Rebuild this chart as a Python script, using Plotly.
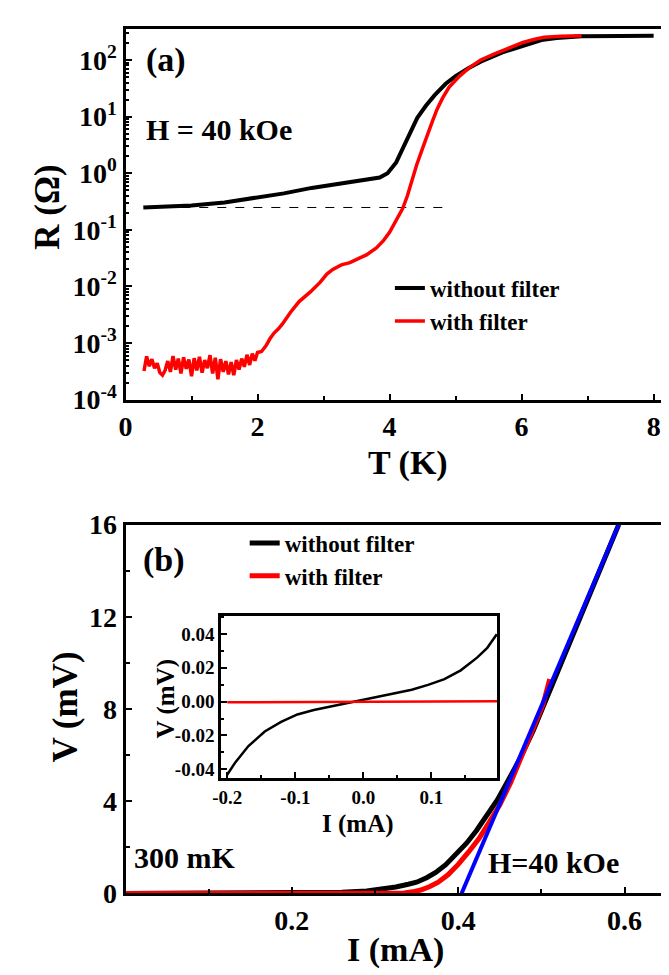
import plotly.graph_objects as go

# (a) R vs T at H = 40 kOe
T_nofilt = [0.27, 0.6, 1.0, 1.5, 1.93, 2.4, 2.82, 3.2, 3.46, 3.7, 3.85, 3.97, 4.05, 4.1, 4.17,
            4.23, 4.32, 4.42, 4.55, 4.68, 4.85, 5.0, 5.2, 5.38, 5.7, 6.02, 6.3, 6.53, 6.91, 7.5, 8.0]
R_nofilt = [0.248, 0.255, 0.268, 0.305, 0.358, 0.44, 0.55, 0.64, 0.716, 0.79, 0.84, 1.0, 1.28, 1.55, 2.3,
            3.3, 5.6, 9.5, 15.5, 23.7, 38, 52, 72, 93, 135, 180, 225, 244, 262, 266, 267]

# noisy floor below 2 K, read by eye
T_filt_low = [0.28, 0.32, 0.36, 0.40, 0.44, 0.48, 0.52, 0.56, 0.60, 0.64, 0.68, 0.72, 0.76, 0.80, 0.84,
              0.88, 0.92, 0.96, 1.00, 1.04, 1.08, 1.12, 1.16, 1.20, 1.24, 1.28, 1.32, 1.36, 1.40, 1.44,
              1.48, 1.52, 1.56, 1.60, 1.64, 1.68, 1.72, 1.76, 1.80, 1.84, 1.88, 1.92, 1.96, 2.00]
R_filt_low = [3.2e-4, 5.8e-4, 3.9e-4, 5.2e-4, 3.6e-4, 4.4e-4, 3.0e-4, 2.7e-4, 3.3e-4, 4.8e-4, 3.1e-4,
              5.9e-4, 3.4e-4, 5.3e-4, 2.9e-4, 5.6e-4, 3.5e-4, 5.1e-4, 2.6e-4, 5.4e-4, 3.3e-4, 5.7e-4,
              3.0e-4, 5.0e-4, 3.6e-4, 6.1e-4, 2.9e-4, 5.5e-4, 2.3e-4, 5.2e-4, 3.1e-4, 4.8e-4, 2.8e-4,
              4.6e-4, 2.7e-4, 5.0e-4, 3.4e-4, 5.3e-4, 3.8e-4, 6.2e-4, 4.1e-4, 6.5e-4, 4.9e-4, 6.8e-4]
T_filt_high = [2.06, 2.13, 2.19, 2.25, 2.32, 2.38, 2.5, 2.63, 2.8, 2.95, 3.05, 3.14, 3.27, 3.40, 3.55,
               3.65, 3.8, 3.91, 4.0, 4.07, 4.14, 4.2, 4.27, 4.33, 4.41, 4.49, 4.57, 4.65, 4.72, 4.8,
               4.9, 5.06, 5.2, 5.38, 5.6, 5.8, 6.02, 6.2, 6.34, 6.6, 6.91]
R_filt_high = [7.1e-4, 9.0e-4, 1.2e-3, 1.5e-3, 1.8e-3, 2.2e-3, 3.5e-3, 5.4e-3, 8.0e-3, 1.19e-2, 1.65e-2,
               2.0e-2, 2.4e-2, 2.63e-2, 3.2e-2, 3.6e-2, 4.8e-2, 6.5e-2, 9.0e-2, 0.126, 0.18, 0.24, 0.40,
               0.69, 1.4, 2.55, 4.8, 8.3, 13.5, 21, 33, 52, 72, 100, 130, 160, 204, 232, 251, 262, 267]
T_filt = T_filt_low + T_filt_high
R_filt = R_filt_low + R_filt_high

T_dash = [0.3, 4.87]
R_dash = [0.248, 0.248]

# (b) V vs I at 300 mK
I_nofilt = [0.0, 0.1, 0.22, 0.26, 0.29, 0.31, 0.325, 0.34, 0.35, 0.362, 0.373, 0.385, 0.397, 0.41,
            0.422, 0.435, 0.447, 0.46, 0.475, 0.49, 0.502, 0.53, 0.56, 0.593]
V_nofilt = [0, 0, 0.02, 0.05, 0.11, 0.19, 0.28, 0.40, 0.49, 0.68, 0.91, 1.25, 1.68, 2.18,
            2.73, 3.38, 4.06, 4.9, 5.9, 7.05, 8.1, 10.6, 13.2, 16.0]
I_filt = [0.0, 0.1, 0.2, 0.3, 0.335, 0.345, 0.355, 0.366, 0.376, 0.388, 0.40, 0.412, 0.425, 0.437,
          0.45, 0.463, 0.477, 0.49, 0.502, 0.51]
V_filt = [0, 0, 0, 0, 0.02, 0.07, 0.15, 0.30, 0.49, 0.82, 1.26, 1.78, 2.38, 3.08,
          3.85, 4.8, 6.0, 7.1, 8.2, 9.3]
I_fit = [0.404, 0.593]
V_fit = [0.0, 16.0]

# inset
I_in = [-0.2005, -0.188, -0.169, -0.145, -0.121, -0.097, -0.073, -0.049, -0.025, 0.0, 0.023, 0.047,
        0.071, 0.095, 0.119, 0.143, 0.167, 0.182, 0.196]
V_in = [-0.0434, -0.0358, -0.0263, -0.0177, -0.012, -0.0076, -0.005, -0.003, -0.0011, 0.001, 0.0032,
        0.0053, 0.007, 0.0099, 0.0133, 0.0185, 0.026, 0.0318, 0.0398]
I_in_filt = [-0.2, 0.0, 0.197]
V_in_filt = [-0.0004, 0.0, 0.0002]

FONT = "Liberation Serif"
BLACK = "#000000"
RED = "#ff0000"
BLUE = "#0000ff"

fig = go.Figure()

fig.add_trace(go.Scatter(x=T_dash, y=R_dash, mode="lines", line=dict(color=BLACK, width=1, dash="dash"),
                         showlegend=False, xaxis="x", yaxis="y"))
fig.add_trace(go.Scatter(x=T_nofilt, y=R_nofilt, mode="lines", line=dict(color=BLACK, width=4),
                         name="without filter", legend="legend", xaxis="x", yaxis="y"))
fig.add_trace(go.Scatter(x=T_filt, y=R_filt, mode="lines", line=dict(color=RED, width=3.5),
                         name="with filter", legend="legend", xaxis="x", yaxis="y"))

fig.add_trace(go.Scatter(x=I_nofilt, y=V_nofilt, mode="lines", line=dict(color=BLACK, width=5),
                         name="without filter", legend="legend2", xaxis="x2", yaxis="y2"))
fig.add_trace(go.Scatter(x=I_filt, y=V_filt, mode="lines", line=dict(color=RED, width=5),
                         name="with filter", legend="legend2", xaxis="x2", yaxis="y2"))
fig.add_trace(go.Scatter(x=I_fit, y=V_fit, mode="lines", line=dict(color=BLUE, width=4),
                         showlegend=False, xaxis="x2", yaxis="y2"))

fig.add_trace(go.Scatter(x=I_in, y=V_in, mode="lines", line=dict(color=BLACK, width=2.5),
                         showlegend=False, xaxis="x3", yaxis="y3"))
fig.add_trace(go.Scatter(x=I_in_filt, y=V_in_filt, mode="lines", line=dict(color=RED, width=2.5),
                         showlegend=False, xaxis="x3", yaxis="y3"))

tick_font = dict(family=FONT, size=28, color=BLACK, weight="bold")
inset_tick_font = dict(family=FONT, size=19, color=BLACK, weight="bold")
common = dict(showline=True, linewidth=3, linecolor=BLACK, mirror=True, ticks="inside",
              ticklen=6, tickwidth=2, tickcolor=BLACK, showgrid=False, zeroline=False)

exps = [-4, -3, -2, -1, 0, 1, 2]
log_vals = [10.0 ** e for e in exps]
log_text = ["10<sup>%d</sup>" % e for e in exps]

legend_font = dict(family=FONT, size=23, color=BLACK, weight="bold")

fig.update_layout(
    width=669, height=975, autosize=False,
    margin=dict(l=0, r=0, t=0, b=0),
    plot_bgcolor="white", paper_bgcolor="white",
    xaxis=dict(domain=[0.1644, 0.9836], anchor="y", range=[0, 8.19], tickvals=[0, 2, 4, 6, 8],
               tickfont=tick_font, minor=dict(dtick=1, ticks="inside", ticklen=4, tickcolor=BLACK), **common),
    yaxis=dict(domain=[0.601, 0.9938], anchor="x", type="log", range=[-4, 2.55], tickvals=log_vals,
               ticktext=log_text, tickfont=tick_font,
               minor=dict(dtick="D1", ticks="inside", ticklen=3, tickcolor=BLACK), **common),
    xaxis2=dict(domain=[0.1644, 0.9836], anchor="y2", range=[0, 0.65], tickvals=[0.2, 0.4, 0.6],
                ticktext=["0.2", "0.4", "0.6"], tickfont=tick_font,
                minor=dict(dtick=0.1, tick0=0, ticks="inside", ticklen=4, tickcolor=BLACK), **common),
    yaxis2=dict(domain=[0.0779, 0.4687], anchor="x2", range=[0, 16], tickvals=[0, 4, 8, 12, 16],
                tickfont=tick_font, minor=dict(dtick=2, ticks="inside", ticklen=4, tickcolor=BLACK), **common),
    xaxis3=dict(domain=[0.3094, 0.728], anchor="y3", range=[-0.209, 0.197], tickvals=[-0.2, -0.1, 0.0, 0.1],
                ticktext=["-0.2", "-0.1", "0.0", "0.1"], tickfont=inset_tick_font,
                minor=dict(dtick=0.05, ticks="inside", ticklen=3, tickcolor=BLACK), **common),
    yaxis3=dict(domain=[0.2, 0.3723], anchor="x3", range=[-0.0453, 0.0509],
                tickvals=[-0.04, -0.02, 0.0, 0.02, 0.04],
                ticktext=["-0.04", "-0.02", "0.00", "0.02", "0.04"], tickfont=inset_tick_font,
                minor=dict(dtick=0.01, ticks="inside", ticklen=3, tickcolor=BLACK), **common),
    legend=dict(x=0.565, y=0.742, xanchor="left", yanchor="top", bgcolor="rgba(0,0,0,0)",
                font=legend_font, itemwidth=30, tracegroupgap=0),
    legend2=dict(x=0.345, y=0.472, xanchor="left", yanchor="top", bgcolor="rgba(0,0,0,0)",
                 font=legend_font, itemwidth=30, tracegroupgap=0),
)

def note(text, x, y, size, angle=0, xanchor="left"):
    fig.add_annotation(text=text, x=x, y=y, xref="paper", yref="paper", showarrow=False,
                       xanchor=xanchor, yanchor="middle", textangle=angle,
                       font=dict(family=FONT, size=size, color=BLACK, weight="bold"))

note("(a)", 0.193, 0.961, 34)
note("H = 40 kOe", 0.193, 0.887, 30)
note("R (Ω)", 0.045, 0.805, 35, angle=-90, xanchor="center")
note("T (K)", 0.592, 0.534, 34, xanchor="center")

note("(b)", 0.188, 0.431, 34)
note("300 mK", 0.174, 0.116, 30)
note("H=40 kOe", 0.71, 0.111, 30)
note("V (mV)", 0.073, 0.275, 35, angle=-90, xanchor="center")
note("I (mA)", 0.574, 0.018, 34, xanchor="center")

note("V (mV)", 0.225, 0.284, 25, angle=-90, xanchor="center")
note("I (mA)", 0.517, 0.152, 25, xanchor="center")

fig.write_html("out.html")
